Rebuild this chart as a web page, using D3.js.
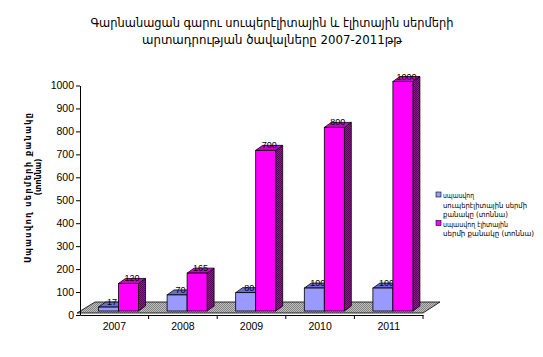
<!DOCTYPE html>
<html><head><meta charset="utf-8">
<script src="https://cdn.jsdelivr.net/npm/d3@7"></script>
<style>body{margin:0;background:#fff}</style>
</head><body>
<svg id="c" width="543" height="357"></svg>
<script>
const years = ["2007","2008","2009","2010","2011"];
const superElite = [17, 70, 80, 100, 100];
const elite = [120, 165, 700, 800, 1000];
const yTicks = [0,100,200,300,400,500,600,700,800,900,1000];
const titleLines = ["Գարնանացան գարու սուպերէլիտային  և էլիտային սերմերի","արտադրության ծավալները 2007-2011թթ"];
const yTitleLines = ["Սպասվող սերմերի քանակը","(տոննա)"];
const legendItems = [
  {lines:["սպասվող","սուպերէլիտային սերմի","քանակը (տոննա)"], color:"#9999FF"},
  {lines:["սպասվող էլիտային","սերմի քանակը (տոննա)"], color:"#FF00FF"}
];

const svg = d3.select("#c");
const font = "'Liberation Sans', Arial, sans-serif";
const arm = "'DejaVu Sans', sans-serif";

const defs = svg.append("defs");
function checker(id, a, b){
  const p = defs.append("pattern").attr("id",id).attr("width",2).attr("height",2).attr("patternUnits","userSpaceOnUse");
  p.append("rect").attr("width",2).attr("height",2).attr("fill",a);
  p.append("rect").attr("width",1).attr("height",1).attr("fill",b);
  p.append("rect").attr("x",1).attr("y",1).attr("width",1).attr("height",1).attr("fill",b);
}
checker("floor","#c0c0c0","#808080");
checker("eside","#b000b0","#5a005a");
checker("sside","#7070d0","#404080");

const x = d3.scaleBand().domain(years).range([80, 423]).padding(0);
const y = d3.scaleLinear().domain([0,1000]).range([315, 85.5]);
const series = d3.scaleBand().domain([0,1]).range([0,40]);
const barOff = 18.5, dx = 7, dy = 5, lift = 4;

// floor
const fy = y(0) - 2, fb = y(0) - 13;
svg.append("path")
  .attr("d", `M${x.range()[0]-3},${fy} L${x.range()[0]+15},${fb} L${x.range()[1]+17},${fb} L${x.range()[1]},${fy} Z`)
  .attr("fill","url(#floor)").attr("stroke","#000").attr("stroke-width",0.8);

// axes
const yAxis = svg.append("g").attr("transform",`translate(80,0)`)
  .call(d3.axisLeft(y).tickValues(yTicks).tickFormat(d3.format("d")).tickSize(4).tickSizeOuter(0).tickPadding(2));
yAxis.selectAll("text").attr("font-family",font).attr("font-size",10.5).attr("fill","#000");
const xAxis = svg.append("g").attr("transform",`translate(0,${y(0)})`)
  .call(d3.axisBottom(x).tickSize(0).tickSizeOuter(0).tickPadding(8));
xAxis.selectAll("text").attr("font-family",font).attr("font-size",10.5).attr("fill","#000");
xAxis.selectAll(".tick").append("line").attr("x1",x.bandwidth()/2).attr("x2",x.bandwidth()/2).attr("y1",0).attr("y2",4).attr("stroke","#000");
svg.selectAll(".domain").attr("stroke","#000");

// bars
const data = [];
years.forEach((yr,i)=>{
  data.push({yr, s:0, v:superElite[i], front:"#9999FF", top:"#6b6bd6", side:"url(#sside)"});
  data.push({yr, s:1, v:elite[i], front:"#FF00FF", top:"#cc00cc", side:"url(#eside)"});
});
const bars = svg.append("g").attr("transform",`translate(0,${-lift})`);
data.forEach(d=>{
  const x0 = x(d.yr) + barOff + series(d.s), w = series.bandwidth();
  const t = y(d.v), b = y(0);
  const g = bars.append("g").attr("stroke","#000").attr("stroke-width",0.8);
  g.append("path").attr("d",`M${x0+w},${t} L${x0+w+dx},${t-dy} L${x0+w+dx},${b-dy} L${x0+w},${b} Z`).attr("fill",d.side);
  g.append("path").attr("d",`M${x0},${t} L${x0+dx},${t-dy} L${x0+w+dx},${t-dy} L${x0+w},${t} Z`).attr("fill",d.top);
  g.append("rect").attr("x",x0).attr("y",t).attr("width",w).attr("height",b-t).attr("fill",d.front);
  bars.append("text").attr("x",x0+w/2+3.5).attr("y",t-2).attr("text-anchor","middle")
    .attr("font-family",font).attr("font-size",9).attr("fill","#000").text(d.v);
});

// title
const titleLen = [363, 260];
svg.append("g").selectAll("text").data(titleLines).join("text")
  .attr("x",272).attr("y",(d,i)=>27+i*17).attr("text-anchor","middle")
  .attr("textLength",(d,i)=>titleLen[i]).attr("lengthAdjust","spacingAndGlyphs")
  .attr("font-family",arm).attr("font-size",12).attr("fill","#000").text(d=>d);

// y title
const yTitleLen = [150, 37];
svg.append("g").selectAll("text").data(yTitleLines).join("text")
  .attr("transform",(d,i)=>`translate(${31+i*10},${i?177:188}) rotate(-90)`)
  .attr("text-anchor","middle").attr("font-family",arm).attr("font-weight","bold")
  .attr("textLength",(d,i)=>yTitleLen[i]).attr("lengthAdjust","spacing")
  .attr("font-size",8).attr("fill","#000").text(d=>d);

// legend
const legendLen = [[31,84,65],[65,91]];
const lg = svg.append("g");
let ly = 195;
legendItems.forEach((it,k)=>{
  lg.append("rect").attr("x",436).attr("y",ly-3).attr("width",5).attr("height",5).attr("fill",it.color).attr("stroke","#000").attr("stroke-width",0.6);
  it.lines.forEach((l,j)=>{
    lg.append("text").attr("x",443).attr("y",ly+j*9.5+3).attr("font-family",arm).attr("font-size",7.5)
      .attr("textLength",legendLen[k][j]).attr("lengthAdjust","spacingAndGlyphs")
      .attr("fill","#000").text(l);
  });
  ly += it.lines.length*9.5;
});
</script>
</body></html>
